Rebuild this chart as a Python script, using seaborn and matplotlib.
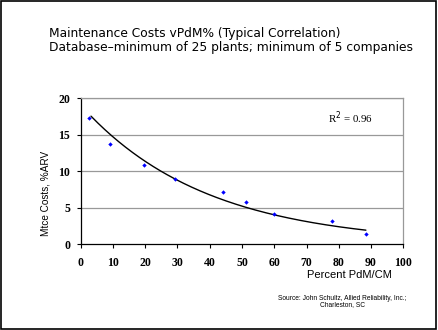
import numpy as np
import pandas as pd
import matplotlib
matplotlib.use("Agg")
import matplotlib.pyplot as plt
import seaborn as sns

# Data
pdm_pct = [2.7, 9.2, 19.7, 29.2, 44.2, 51.1, 59.9, 78.0, 88.4]
mtce_cost = [17.3, 13.7, 10.8, 8.9, 7.1, 5.75, 4.1, 3.15, 1.4]
x_ticks = [0, 10, 20, 30, 40, 50, 60, 70, 80, 90, 100]
y_ticks = [0, 5, 10, 15, 20]
r2_label = "R$^2$ = 0.96"
title_lines = ["Maintenance Costs vPdM% (Typical Correlation)",
               "Database\u2013minimum of 25 plants; minimum of 5 companies"]
source_lines = ["Source: John Schultz, Allied Reliability, Inc.;", "Charleston, SC"]

df = pd.DataFrame({"x": pdm_pct, "y": mtce_cost})

# exponential trend line fitted to the points
b, loga = np.polyfit(df["x"], np.log(df["y"]), 1)
xs = np.linspace(3.2, max(pdm_pct), 200)
trend = pd.DataFrame({"x": xs, "y": np.exp(loga) * np.exp(b * xs)})

sns.set_style("white")
plt.rcParams["text.color"] = "black"
fig = plt.figure(figsize=(4.38, 3.30), dpi=100)
ax = fig.add_axes([0.1842, 0.2597, 0.7366, 0.4424])

sns.lineplot(data=trend, x="x", y="y", ax=ax, color="black", linewidth=1.0)
sns.scatterplot(data=df, x="x", y="y", ax=ax, marker="D", s=5, color="#0000FF",
                edgecolor="#0000FF", linewidth=0, zorder=5)

ax.set_xlim(0, 100)
ax.set_ylim(0, 20)
ax.set_xticks(x_ticks)
ax.set_yticks(y_ticks)
ax.set_xticklabels([str(t) for t in x_ticks], fontfamily="Liberation Serif",
                   fontweight="bold", fontsize=8.5, color="black")
ax.set_yticklabels([str(t) for t in y_ticks], fontfamily="Liberation Serif",
                   fontweight="bold", fontsize=8.5, color="black")
ax.tick_params(axis="x", direction="out", length=3, width=0.8, color="black",
               bottom=True, pad=6)
ax.tick_params(axis="y", direction="out", length=3, width=0.8, color="black",
               left=True, pad=4.5)
for t in y_ticks[1:]:
    ax.axhline(t, color="#999999", linewidth=0.9, zorder=0)
ax.spines["left"].set_color("black")
ax.spines["bottom"].set_color("black")
ax.spines["top"].set_color("#999999")
ax.spines["right"].set_color("#999999")
for s in ax.spines.values():
    s.set_linewidth(0.9)
ax.set_xlabel("")
ax.set_ylabel("")

fig.text(45 / 438, 1 - 193 / 330, "Mtce Costs, %ARV", rotation=90, ha="center",
         va="center", fontfamily="Liberation Sans", fontsize=7.2)
fig.text(349 / 438, 1 - 275 / 330, "Percent PdM/CM", ha="center", va="center",
         fontfamily="Liberation Sans", fontsize=8)
ax.text(350 / 438, 1 - 118 / 330, r2_label, transform=fig.transFigure, ha="center",
        va="center", fontfamily="Liberation Serif", fontsize=7.8)

fig.text(49 / 438, 1 - 33 / 330, title_lines[0], ha="left", va="center",
         fontfamily="DejaVu Sans", fontsize=8.8)
fig.text(49 / 438, 1 - 48 / 330, title_lines[1], ha="left", va="center",
         fontfamily="DejaVu Sans", fontsize=8.8)
fig.text(342 / 438, 1 - 298 / 330, source_lines[0], ha="center", va="center",
         fontfamily="Liberation Sans", fontsize=4.8)
fig.text(342 / 438, 1 - 305 / 330, source_lines[1], ha="center", va="center",
         fontfamily="Liberation Sans", fontsize=4.8)

border = plt.Rectangle((0.003, 0.003), 0.993, 0.993, transform=fig.transFigure,
                       fill=False, edgecolor="black", linewidth=1.2)
fig.patches.append(border)

fig.savefig("out.png", dpi=100)
